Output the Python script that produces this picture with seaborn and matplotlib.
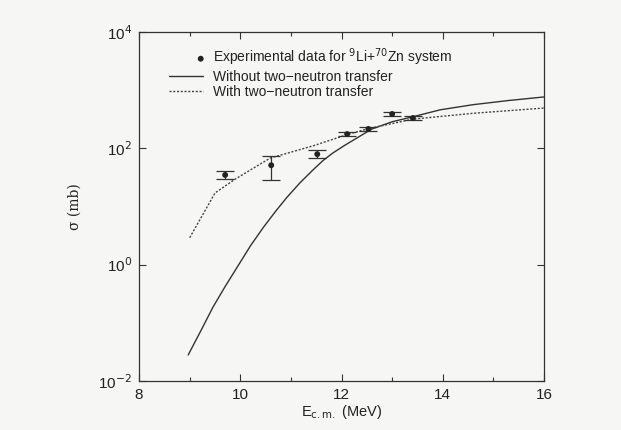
import numpy as np
import pandas as pd
import matplotlib
matplotlib.use("Agg")
import matplotlib.pyplot as plt
import seaborn as sns
from matplotlib.ticker import FixedLocator, NullLocator
from matplotlib.legend_handler import HandlerPathCollection

# Experimental data
exp_E = [9.70, 10.61, 11.52, 12.11, 12.53, 13.00, 13.41]
exp_sigma = [34.7, 51.0, 79.0, 175.0, 214.0, 387.0, 330.0]
exp_err_lo = [5.5, 22.5, 12.0, 15.0, 18.0, 30.0, 30.0]
exp_err_hi = [6.5, 22.0, 14.0, 17.0, 20.0, 34.0, 33.0]

# Without two-neutron transfer (solid)
no_E = [8.97, 9.22, 9.46, 9.7, 9.94, 10.2, 10.45, 10.7, 10.92, 11.18, 11.44,
        11.63, 11.83, 12.07, 12.31, 12.6, 13.0, 13.41, 13.95, 14.6, 15.3, 16.0]
no_sigma = [0.028, 0.073, 0.186, 0.42, 0.91, 2.1, 4.3, 8.3, 14.3, 25.5, 42.7,
            61.0, 83.0, 113.0, 151.0, 214.0, 285.0, 347.0, 457.0, 560.0,
            660.0, 760.0]

# With two-neutron transfer (dotted)
w_E = [9.0, 9.5, 9.9, 10.59, 11.44, 12.1, 12.5, 13.41, 14.6, 16.0]
w_sigma = [2.9, 17.0, 29.5, 67.6, 110.0, 170.0, 214.0, 316.0, 398.0, 490.0]

sns.set_theme(style="ticks")
plt.rcParams['font.family'] = ['Liberation Sans', 'DejaVu Sans']

fig = plt.figure(figsize=(6.21, 4.30), dpi=100, facecolor='#f6f6f5')
ax = fig.add_axes([0.224, 0.114, 0.652, 0.812])
ax.set_facecolor('#f6f6f5')

df_no = pd.DataFrame({"E": no_E, "s": no_sigma})
df_w = pd.DataFrame({"E": w_E, "s": w_sigma})
df_exp = pd.DataFrame({"E": exp_E, "s": exp_sigma})

sns.lineplot(data=df_no, x="E", y="s", ax=ax, color='#333333', lw=1.0,
             label="Without two\u2212neutron transfer")
sns.lineplot(data=df_w, x="E", y="s", ax=ax, color='#444444', lw=1.0,
             linestyle=(0, (1.5, 1.2)), label="With two\u2212neutron transfer")
ax.errorbar(exp_E, exp_sigma, yerr=[exp_err_lo, exp_err_hi], fmt='none',
            ecolor='#333333', elinewidth=0.9, capsize=6.2, capthick=0.9)
sns.scatterplot(data=df_exp, x="E", y="s", ax=ax, color='#222222', s=18,
                edgecolor='none', zorder=5,
                label="Experimental data for $^{9}$Li+$^{70}$Zn system")

ax.set_yscale('log')
ax.set_xlim(8, 16)
ax.set_ylim(1e-2, 1e4)
ax.xaxis.set_major_locator(FixedLocator([8, 10, 12, 14, 16]))
ax.xaxis.set_minor_locator(FixedLocator([9, 11, 13, 15]))
ax.yaxis.set_major_locator(FixedLocator([1e-2, 1, 1e2, 1e4]))
ax.yaxis.set_minor_locator(NullLocator())
ax.set_yticklabels(["10$^{-2}$", "10$^{0}$", "10$^{2}$", "10$^{4}$"])
ax.tick_params(which='both', direction='in', top=True, right=True,
               labelsize=11, color='#333333', labelcolor='#222222')
ax.tick_params(which='major', length=5, width=0.8, pad=5)
ax.tick_params(which='minor', length=3, width=0.8)
for sp in ax.spines.values():
    sp.set_color('#333333')
    sp.set_linewidth(0.9)

ax.set_xlabel("E$_{\\rm c{.}m{.}}$ (MeV)", fontsize=10.5, color='#222222',
              labelpad=1)
ax.set_ylabel("\u03c3 (mb)", fontsize=10, color='#222222',
              family=['DejaVu Serif'], labelpad=12)


class RightMarker(HandlerPathCollection):
    def get_xdata(self, legend, xdescent, ydescent, width, height, fontsize):
        x = [-xdescent + width * 0.93]
        return x, x


handles, labels = ax.get_legend_handles_labels()
order = [2, 0, 1]
leg = ax.legend([handles[i] for i in order], [labels[i] for i in order],
                loc='upper left', bbox_to_anchor=(0.05, 0.985), frameon=False,
                fontsize=10, handlelength=2.45, handletextpad=0.7,
                labelspacing=0.1, borderaxespad=0.3, labelcolor='#222222',
                handler_map={handles[2]: RightMarker()})

fig.savefig("out.png", dpi=100, facecolor=fig.get_facecolor())
